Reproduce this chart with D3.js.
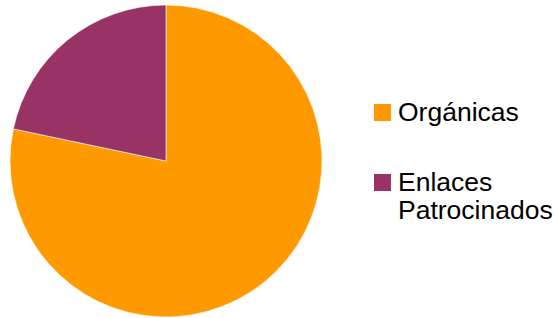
<!DOCTYPE html>
<html>
<head>
<meta charset="utf-8">
<script src="https://cdn.jsdelivr.net/npm/d3@7"></script>
<style>
  body { margin: 0; background: #fff; }
  svg { display: block; font-family: Arial, "Liberation Sans", sans-serif; }
</style>
</head>
<body>
<svg id="chart" width="558" height="318"></svg>
<script>
// slice data
let categories = ["Orgánicas", "Enlaces Patrocinados"];
let values = [78.3, 21.7];
let colors = ["#ff9900", "#993366"];
let legendLines = [["Orgánicas"], ["Enlaces", "Patrocinados"]];

let width = 558, height = 318;
let cx = 166, cy = 161, radius = 156;

let svg = d3.select("#chart");

let pie = d3.pie().sort(null).value((d) => d);
let arc = d3.arc().innerRadius(0).outerRadius(radius);

let g = svg.append("g").attr("transform", "translate(" + cx + "," + cy + ")");

g.selectAll("path")
  .data(pie(values))
  .enter()
  .append("path")
  .attr("d", arc)
  .attr("fill", (d, i) => colors[i])
  .attr("stroke", "#fff")
  .attr("stroke-width", 0.6);

// legend
let legendY = [104, 174];
let legend = svg
  .selectAll(".legend")
  .data(categories)
  .enter()
  .append("g")
  .attr("class", "legend")
  .attr("transform", (d, i) => "translate(374," + legendY[i] + ")");

legend
  .append("rect")
  .attr("width", 17)
  .attr("height", 17)
  .attr("fill", (d, i) => colors[i]);

legend
  .append("text")
  .attr("x", 24)
  .attr("y", 17)
  .attr("font-size", "26.5px")
  .attr("fill", "#000")
  .selectAll("tspan")
  .data((d, i) => legendLines[i])
  .enter()
  .append("tspan")
  .attr("x", 24)
  .attr("dy", (d, i) => (i === 0 ? 0 : 28))
  .text((d) => d);
</script>
</body>
</html>
